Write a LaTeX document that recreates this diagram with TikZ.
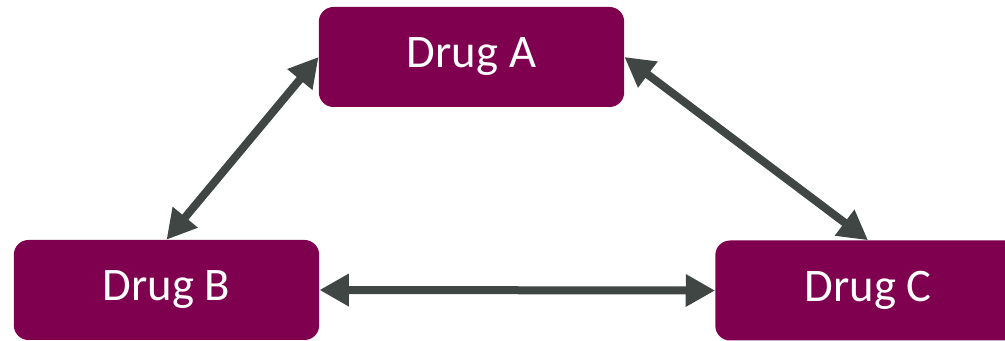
\documentclass[tikz,border=0pt]{standalone}
\usepackage{fontspec}
\setmainfont{Carlito}
\usetikzlibrary{arrows.meta}
\definecolor{drugfill}{HTML}{800050}
\definecolor{arrowgray}{HTML}{404644}
\begin{document}
\begin{tikzpicture}[x=0.75pt,y=-0.75pt,
  drugbox/.style={draw=none,fill=drugfill,rounded corners=11pt,text=white,
    font=\fontsize{35}{42}\selectfont,inner sep=0pt,
    minimum width=229pt,minimum height=75pt},
  link/.style={draw=arrowgray,line width=6pt,
    {Triangle[length=22pt,width=23pt]}-{Triangle[length=22pt,width=23pt]}}]
\useasboundingbox (0,0) rectangle (1005,341);
\node[drugbox] (A) at (471.5,57) {Drug A};
\node[drugbox] (B) at (166.5,290) {Drug B};
\node[drugbox] (C) at (868,290.5) {Drug C};
\draw[link] (A.west) -- (B.north);
\draw[link] (A.east) -- (C.north);
\draw[link] (B.east) -- (C.west);
\end{tikzpicture}
\end{document}
